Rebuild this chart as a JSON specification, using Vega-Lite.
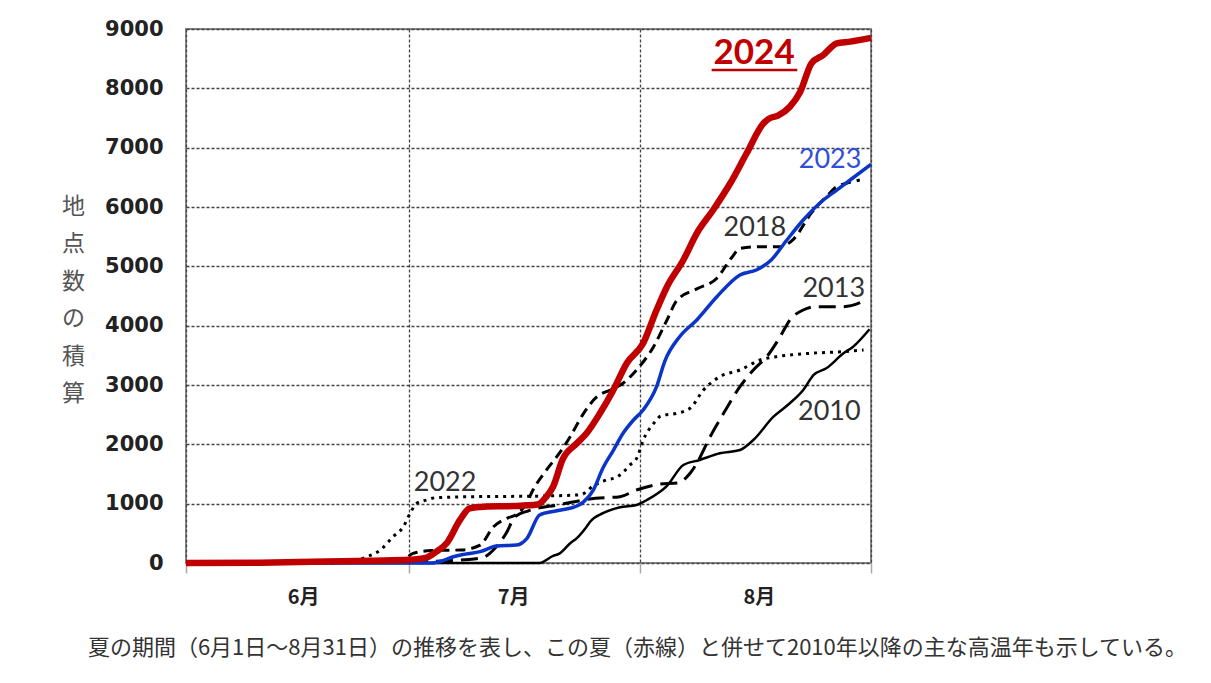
{
  "$schema": "https://vega.github.io/schema/vega-lite/v6.json",
  "width": 685,
  "height": 534,
  "autosize": {"type": "none"},
  "padding": {"left": 186, "top": 29, "right": 340, "bottom": 120},
  "background": "white",
  "config": {"view": {"stroke": "#888888", "strokeWidth": 2}},
  "title": {"text": "夏の期間（6月1日～8月31日）の推移を表し、この夏（赤線）と併せて2010年以降の主な高温年も示している。", "orient": "bottom", "anchor": "middle", "dx": 109, "offset": 30, "fontSize": 22, "font": "Noto Sans CJK JP", "fontWeight": "normal", "color": "#333333"},
  "datasets": {
    "lines": [
      {"year": 2010, "day": 0, "v": 0}, {"year": 2010, "day": 47.5, "v": 0}, {"year": 2010, "day": 49.3, "v": 120}, {"year": 2010, "day": 50.2, "v": 163}, {"year": 2010, "day": 51.6, "v": 332}, {"year": 2010, "day": 52.5, "v": 420}, {"year": 2010, "day": 53.8, "v": 612}, {"year": 2010, "day": 54.3, "v": 700}, {"year": 2010, "day": 56, "v": 840}, {"year": 2010, "day": 58.3, "v": 940}, {"year": 2010, "day": 60.5, "v": 977}, {"year": 2010, "day": 61.9, "v": 1062}, {"year": 2010, "day": 64.6, "v": 1300}, {"year": 2010, "day": 66.8, "v": 1652}, {"year": 2010, "day": 69, "v": 1736}, {"year": 2010, "day": 71.7, "v": 1849}, {"year": 2010, "day": 74.4, "v": 1904}, {"year": 2010, "day": 76.2, "v": 2073}, {"year": 2010, "day": 78.9, "v": 2466}, {"year": 2010, "day": 81.1, "v": 2692}, {"year": 2010, "day": 82.9, "v": 2916}, {"year": 2010, "day": 84.3, "v": 3169}, {"year": 2010, "day": 86, "v": 3281}, {"year": 2010, "day": 88.3, "v": 3534}, {"year": 2010, "day": 89.6, "v": 3646}, {"year": 2010, "day": 91.8, "v": 3940},
      {"year": 2013, "day": 0, "v": 0}, {"year": 2013, "day": 30, "v": 20}, {"year": 2013, "day": 38, "v": 60}, {"year": 2013, "day": 40, "v": 100}, {"year": 2013, "day": 41.5, "v": 250}, {"year": 2013, "day": 43, "v": 500}, {"year": 2013, "day": 44.2, "v": 780}, {"year": 2013, "day": 46, "v": 880}, {"year": 2013, "day": 50, "v": 980}, {"year": 2013, "day": 55, "v": 1090}, {"year": 2013, "day": 58.3, "v": 1118}, {"year": 2013, "day": 60.5, "v": 1230}, {"year": 2013, "day": 63.7, "v": 1330}, {"year": 2013, "day": 66, "v": 1350}, {"year": 2013, "day": 67.7, "v": 1512}, {"year": 2013, "day": 68.6, "v": 1680}, {"year": 2013, "day": 70.4, "v": 2129}, {"year": 2013, "day": 72.2, "v": 2523}, {"year": 2013, "day": 74.4, "v": 2972}, {"year": 2013, "day": 76.2, "v": 3253}, {"year": 2013, "day": 78, "v": 3477}, {"year": 2013, "day": 79.8, "v": 3814}, {"year": 2013, "day": 81.1, "v": 4096}, {"year": 2013, "day": 82.9, "v": 4264}, {"year": 2013, "day": 84.7, "v": 4320}, {"year": 2013, "day": 88.3, "v": 4320}, {"year": 2013, "day": 91.4, "v": 4433},
      {"year": 2022, "day": 0, "v": 0}, {"year": 2022, "day": 20, "v": 0}, {"year": 2022, "day": 22.5, "v": 30}, {"year": 2022, "day": 24.3, "v": 106}, {"year": 2022, "day": 26.1, "v": 219}, {"year": 2022, "day": 27.8, "v": 443}, {"year": 2022, "day": 29.2, "v": 612}, {"year": 2022, "day": 30.1, "v": 838}, {"year": 2022, "day": 31, "v": 1006}, {"year": 2022, "day": 32.3, "v": 1060}, {"year": 2022, "day": 33.5, "v": 1100}, {"year": 2022, "day": 40, "v": 1120}, {"year": 2022, "day": 46, "v": 1125}, {"year": 2022, "day": 53, "v": 1150}, {"year": 2022, "day": 54.7, "v": 1300}, {"year": 2022, "day": 56.5, "v": 1400}, {"year": 2022, "day": 57.9, "v": 1450}, {"year": 2022, "day": 58.7, "v": 1530}, {"year": 2022, "day": 59.6, "v": 1650}, {"year": 2022, "day": 60.6, "v": 1780}, {"year": 2022, "day": 61.4, "v": 2070}, {"year": 2022, "day": 62.8, "v": 2350}, {"year": 2022, "day": 63.8, "v": 2480}, {"year": 2022, "day": 65.9, "v": 2523}, {"year": 2022, "day": 67.7, "v": 2607}, {"year": 2022, "day": 69.5, "v": 2916}, {"year": 2022, "day": 71.7, "v": 3140}, {"year": 2022, "day": 74.4, "v": 3253}, {"year": 2022, "day": 77.1, "v": 3421}, {"year": 2022, "day": 79.3, "v": 3477}, {"year": 2022, "day": 83.8, "v": 3534}, {"year": 2022, "day": 88.3, "v": 3562}, {"year": 2022, "day": 91, "v": 3590},
      {"year": 2018, "day": 0, "v": 0}, {"year": 2018, "day": 25, "v": 10}, {"year": 2018, "day": 29, "v": 40}, {"year": 2018, "day": 30.5, "v": 163}, {"year": 2018, "day": 33, "v": 210}, {"year": 2018, "day": 37, "v": 220}, {"year": 2018, "day": 39.5, "v": 300}, {"year": 2018, "day": 41.3, "v": 612}, {"year": 2018, "day": 43.1, "v": 753}, {"year": 2018, "day": 44.4, "v": 820}, {"year": 2018, "day": 45.7, "v": 1000}, {"year": 2018, "day": 46.6, "v": 1230}, {"year": 2018, "day": 48.4, "v": 1567}, {"year": 2018, "day": 49.8, "v": 1792}, {"year": 2018, "day": 51.6, "v": 2129}, {"year": 2018, "day": 53.4, "v": 2523}, {"year": 2018, "day": 55.2, "v": 2803}, {"year": 2018, "day": 57, "v": 2916}, {"year": 2018, "day": 58.7, "v": 3029}, {"year": 2018, "day": 60.5, "v": 3253}, {"year": 2018, "day": 62.8, "v": 3646}, {"year": 2018, "day": 64.6, "v": 4096}, {"year": 2018, "day": 65.9, "v": 4420}, {"year": 2018, "day": 68.6, "v": 4620}, {"year": 2018, "day": 71.3, "v": 4800}, {"year": 2018, "day": 73.3, "v": 5150}, {"year": 2018, "day": 74.4, "v": 5300}, {"year": 2018, "day": 77, "v": 5331}, {"year": 2018, "day": 79.8, "v": 5331}, {"year": 2018, "day": 81.6, "v": 5460}, {"year": 2018, "day": 84, "v": 5900}, {"year": 2018, "day": 86, "v": 6174}, {"year": 2018, "day": 87.4, "v": 6343}, {"year": 2018, "day": 88.7, "v": 6399}, {"year": 2018, "day": 90.5, "v": 6455},
      {"year": 2023, "day": 0, "v": 0}, {"year": 2023, "day": 33, "v": 0}, {"year": 2023, "day": 34.5, "v": 40}, {"year": 2023, "day": 35.9, "v": 106}, {"year": 2023, "day": 37.5, "v": 150}, {"year": 2023, "day": 39.5, "v": 191}, {"year": 2023, "day": 41.7, "v": 286}, {"year": 2023, "day": 44.4, "v": 303}, {"year": 2023, "day": 45.8, "v": 416}, {"year": 2023, "day": 47.5, "v": 809}, {"year": 2023, "day": 49.8, "v": 880}, {"year": 2023, "day": 52.5, "v": 960}, {"year": 2023, "day": 53.4, "v": 1030}, {"year": 2023, "day": 54.7, "v": 1230}, {"year": 2023, "day": 56, "v": 1600}, {"year": 2023, "day": 57.4, "v": 1900}, {"year": 2023, "day": 58.7, "v": 2186}, {"year": 2023, "day": 60.1, "v": 2410}, {"year": 2023, "day": 61.4, "v": 2579}, {"year": 2023, "day": 63.2, "v": 2972}, {"year": 2023, "day": 64.3, "v": 3400}, {"year": 2023, "day": 66.3, "v": 3814}, {"year": 2023, "day": 68.6, "v": 4096}, {"year": 2023, "day": 71.3, "v": 4488}, {"year": 2023, "day": 74.4, "v": 4854}, {"year": 2023, "day": 76.6, "v": 4938}, {"year": 2023, "day": 78.6, "v": 5107}, {"year": 2023, "day": 80.7, "v": 5444}, {"year": 2023, "day": 82.9, "v": 5781}, {"year": 2023, "day": 85.6, "v": 6118}, {"year": 2023, "day": 87.4, "v": 6286}, {"year": 2023, "day": 89.2, "v": 6455}, {"year": 2023, "day": 92, "v": 6720},
      {"year": 2024, "day": 0, "v": 0}, {"year": 2024, "day": 10, "v": 5}, {"year": 2024, "day": 17, "v": 20}, {"year": 2024, "day": 25, "v": 40}, {"year": 2024, "day": 30, "v": 55}, {"year": 2024, "day": 32.3, "v": 90}, {"year": 2024, "day": 33.5, "v": 180}, {"year": 2024, "day": 35, "v": 332}, {"year": 2024, "day": 36.8, "v": 725}, {"year": 2024, "day": 38.1, "v": 922}, {"year": 2024, "day": 40, "v": 950}, {"year": 2024, "day": 44, "v": 960}, {"year": 2024, "day": 47.2, "v": 985}, {"year": 2024, "day": 48.4, "v": 1118}, {"year": 2024, "day": 49.3, "v": 1286}, {"year": 2024, "day": 50.6, "v": 1750}, {"year": 2024, "day": 52.5, "v": 2017}, {"year": 2024, "day": 53.8, "v": 2186}, {"year": 2024, "day": 55.6, "v": 2523}, {"year": 2024, "day": 57.4, "v": 2916}, {"year": 2024, "day": 59.2, "v": 3366}, {"year": 2024, "day": 61.4, "v": 3703}, {"year": 2024, "day": 63.2, "v": 4264}, {"year": 2024, "day": 64.6, "v": 4657}, {"year": 2024, "day": 66.8, "v": 5107}, {"year": 2024, "day": 68.6, "v": 5557}, {"year": 2024, "day": 70.8, "v": 5950}, {"year": 2024, "day": 73.1, "v": 6400}, {"year": 2024, "day": 75.3, "v": 6905}, {"year": 2024, "day": 77.5, "v": 7400}, {"year": 2024, "day": 78.3, "v": 7490}, {"year": 2024, "day": 79.5, "v": 7540}, {"year": 2024, "day": 81.1, "v": 7690}, {"year": 2024, "day": 82.5, "v": 7943}, {"year": 2024, "day": 84, "v": 8422}, {"year": 2024, "day": 85.6, "v": 8562}, {"year": 2024, "day": 87.4, "v": 8759}, {"year": 2024, "day": 89.2, "v": 8787}, {"year": 2024, "day": 92, "v": 8850}
    ],
    "labels": [
      {"label": "2023", "day": 86.5, "v": 6792},
      {"label": "2018", "day": 76.4, "v": 5646},
      {"label": "2013", "day": 87.0, "v": 4618},
      {"label": "2010", "day": 86.4, "v": 2545},
      {"label": "2022", "day": 34.8, "v": 1348}
    ],
    "months": [
      {"label": "6月", "day": 15.8, "v": 0},
      {"label": "7月", "day": 44.0, "v": 0},
      {"label": "8月", "day": 77.0, "v": 0}
    ],
    "title2024": [{"label": "2024", "day": 76.3, "v": 8596}],
    "underline": [{"day": 70.6, "day2": 82.1, "v": 8309}]
  },
  "encoding": {
    "x": {"field": "day", "type": "quantitative", "scale": {"domain": [0, 92], "nice": false, "zero": false},
      "axis": {"values": [0, 30, 61, 92], "labels": false, "tickSize": 10, "tickColor": "#aaaaaa", "tickWidth": 1.5, "domain": false, "grid": true, "gridDash": [3, 2], "gridColor": "#444444", "gridWidth": 1.3, "title": null}},
    "y": {"field": "v", "type": "quantitative", "scale": {"domain": [0, 9000], "nice": false},
      "axis": {"values": [0, 1000, 2000, 3000, 4000, 5000, 6000, 7000, 8000, 9000], "format": "d", "labelFont": "DejaVu Sans", "labelFontWeight": "bold", "labelFontSize": 21, "labelColor": "#222222", "labelPadding": 23, "ticks": false, "domain": false, "grid": true, "gridDash": [3, 2], "gridColor": "#444444", "gridWidth": 1.3, "labelFlush": false, "labelOverlap": false,
        "title": ["地", "点", "数", "の", "積", "算"], "titleAngle": 0, "titleX": -113, "titleY": 166, "titleAlign": "center", "titleBaseline": "top", "titleFont": "Noto Sans CJK JP", "titleFontSize": 23, "titleFontWeight": "normal", "titleColor": "#555555", "titleLineHeight": 37.5}}
  },
  "layer": [
    {"data": {"name": "lines"}, "transform": [{"filter": "datum.year==2010"}], "mark": {"type": "line", "color": "#000000", "strokeWidth": 2.5, "interpolate": "monotone"}},
    {"data": {"name": "lines"}, "transform": [{"filter": "datum.year==2013"}], "mark": {"type": "line", "color": "#000000", "strokeWidth": 3, "strokeDash": [17, 8], "interpolate": "monotone"}},
    {"data": {"name": "lines"}, "transform": [{"filter": "datum.year==2022"}], "mark": {"type": "line", "color": "#000000", "strokeWidth": 3, "strokeDash": [3, 5], "interpolate": "monotone"}},
    {"data": {"name": "lines"}, "transform": [{"filter": "datum.year==2018"}], "mark": {"type": "line", "color": "#000000", "strokeWidth": 3, "strokeDash": [10, 6], "interpolate": "monotone"}},
    {"data": {"name": "lines"}, "transform": [{"filter": "datum.year==2023"}], "mark": {"type": "line", "color": "#0B35C8", "strokeWidth": 3.5, "interpolate": "monotone"}},
    {"data": {"name": "lines"}, "transform": [{"filter": "datum.year==2024"}], "mark": {"type": "line", "color": "#C00000", "strokeWidth": 6.5, "interpolate": "monotone"}},
    {"data": {"name": "labels"}, "mark": {"type": "text", "font": "Lato", "fontSize": 27, "align": "center", "baseline": "middle"},
      "encoding": {"text": {"field": "label"}, "color": {"field": "label", "type": "nominal", "legend": null, "scale": {"domain": ["2023", "2018", "2013", "2010", "2022"], "range": ["#2F4FD8", "#333333", "#333333", "#333333", "#333333"]}}}},
    {"data": {"name": "months"}, "mark": {"type": "text", "font": "Noto Sans CJK JP", "fontSize": 20, "fontWeight": "bold", "align": "center", "baseline": "middle", "dy": 35, "color": "#222222"},
      "encoding": {"text": {"field": "label"}}},
    {"data": {"name": "title2024"}, "mark": {"type": "text", "font": "Lato", "fontWeight": "bold", "fontSize": 35, "align": "center", "baseline": "middle", "color": "#C00000"},
      "encoding": {"text": {"field": "label"}}},
    {"data": {"name": "underline"}, "mark": {"type": "rule", "color": "#C00000", "strokeWidth": 2.5},
      "encoding": {"x2": {"field": "day2"}}}
  ]
}
